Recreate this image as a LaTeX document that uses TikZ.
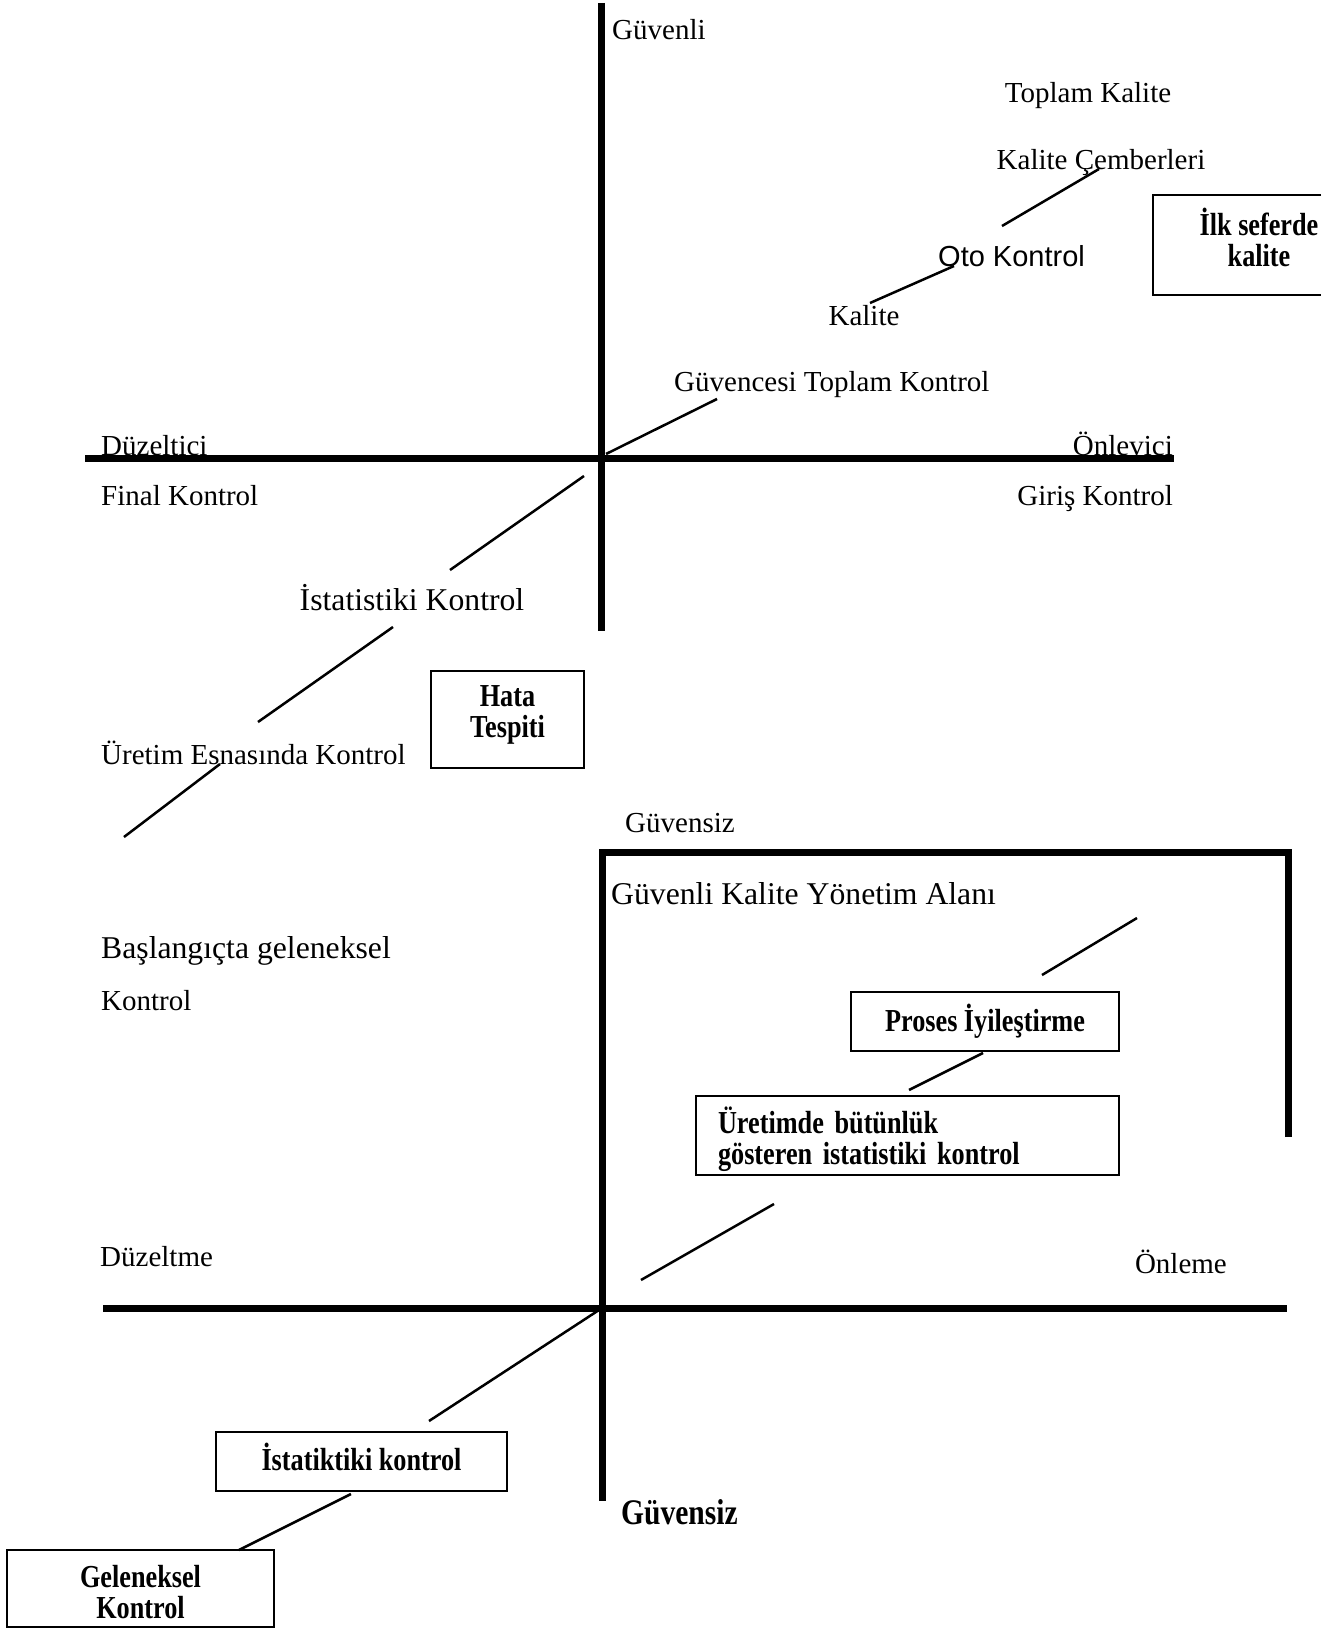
\documentclass[tikz,border=0pt]{standalone}
\usepackage{fontspec}
\setmainfont{Liberation Serif}
\newfontfamily\sansf{Liberation Sans}
\newfontfamily\condf[FakeStretch=0.82]{Liberation Serif}
\usetikzlibrary{positioning,calc}

\begin{document}
\begin{tikzpicture}[
x=1pt,
y=-1pt,
lbl/.style={
  inner sep=0pt,
  font=\fontsize{29}{34}\selectfont
  },
wide/.style={
  lbl,
  font=\fontsize{31.7}{36}\selectfont
  },
box/.style={
  draw,
  line width=2pt,
  inner sep=0pt,
  align=center,
  font=\condf\bfseries\fontsize{32}{31}\selectfont
  },
axis/.style={
  line width=7pt
  },
seg/.style={
  line width=2.5pt
  }
]
\useasboundingbox (0,0) rectangle (1339,1629);

\coordinate (vt) at (601.5,3);
\coordinate (vb) at (601.5,631);
\coordinate (hl) at (85,458);
\coordinate (hr) at (1174,458);
\coordinate (wt) at (602.5,850);
\coordinate (wb) at (602.5,1501);
\coordinate (wr) at (1288,852);
\coordinate (we) at (1288,1137);
\coordinate (gl) at (103,1308);
\coordinate (gr) at (1287,1308);

\draw[axis] (vt) -- (vb);
\draw[axis] (hl) -- (hr);
\draw[axis] (gl) -- (gr);
\draw[axis] (we) -- (wr) -- (wt |- wr) -- (wb);

\node[lbl, anchor=west] (guvenli) at (612,30) {Güvenli};
\node[lbl] (toplam) at (1088,96) {Toplam Kalite};
\node[lbl] (cember) at (1101,163) {Kalite Çemberleri};
\node[lbl, font=\sansf\fontsize{29}{34}\selectfont, anchor=west] (oto) at (938,256) {Oto Kontrol};
\node[lbl] (kalite) at (864,316) {Kalite};
\node[lbl, anchor=west] (guvence) at (674,385) {Güvencesi Toplam Kontrol};
\node[lbl, anchor=base west] (duzeltici) at (101,455) {Düzeltici};
\node[lbl, anchor=base east] (onlevici) at (1173,455) {Önlevici};
\node[lbl, anchor=west] (final) at (101,496) {Final Kontrol};
\node[lbl, anchor=east] (giris) at (1173,499) {Giriş Kontrol};
\node[wide] (istat) at (412,598) {İstatistiki Kontrol};
\node[lbl, anchor=west] (esnasi) at (101,753) {Üretim Esnasında Kontrol};
\node[lbl, anchor=west] (guvensiz) at (625,823) {Güvensiz};
\node[wide, anchor=west] (alan) at (611,894) {Güvenli Kalite Yönetim Alanı};
\node[wide, anchor=west] (basla) at (101,951) {Başlangıçta geleneksel};
\node[lbl, anchor=west] (kontrol) at (101,1001) {Kontrol};
\node[lbl, anchor=west] (duzeltme) at (100,1257) {Düzeltme};
\node[lbl, anchor=east] (onleme) at (1227,1262) {Önleme};
\node[lbl, anchor=west, font=\condf\bfseries\fontsize{36}{40}\selectfont] (guvensizb) at (621,1512) {Güvensiz};

\node[box, draw=none, minimum width=166pt, minimum height=98pt] (ilk) at (1237,245) {};
\draw[line width=2pt] (ilk.north east) -- (ilk.north west) -- (ilk.south west) -- (ilk.south east);
\node[box, draw=none] (ilktxt) at (1259,237) {İlk seferde\\kalite};
\node[box, minimum width=153pt, minimum height=97pt] (hata) at (507.5,719.5) {Hata\\Tespiti\rule[-15pt]{0pt}{0pt}};
\node[box, minimum width=268pt, minimum height=59pt] (proses) at (985,1021.5) {Proses İyileştirme};
\node[box, minimum width=423pt, minimum height=79pt, text width=379pt, align=left] (uretim) at (907.5,1135.5) {\rule{0pt}{35pt}Üretimde bütünlük\\gösteren istatistiki kontrol};
\node[box, minimum width=291pt, minimum height=59pt] (istbox) at (361.5,1461.5) {İstatiktiki kontrol\rule[-10pt]{0pt}{0pt}};
\node[box, minimum width=267pt, minimum height=77pt] (geleneksel) at (140.5,1588.5) {\rule{0pt}{30pt}Geleneksel\\Kontrol};

\coordinate (s1-a) at (1002,226);  \coordinate (s1-b) at (1099,169);
\coordinate (s2-a) at (870,303);   \coordinate (s2-b) at (954,266);
\coordinate (s3-a) at (606,454);   \coordinate (s3-b) at (717,399);
\coordinate (s4-a) at (584,476);   \coordinate (s4-b) at (450,570);
\coordinate (s5-a) at (393,627);   \coordinate (s5-b) at (258,722);
\coordinate (s6-a) at (220,764);   \coordinate (s6-b) at (124,837);
\coordinate (s7-a) at (1137,918);  \coordinate (s7-b) at (1042,975);
\coordinate (s8-a) at (983,1053);  \coordinate (s8-b) at (909,1090);
\coordinate (s9-a) at (774,1204);  \coordinate (s9-b) at (641,1280);
\coordinate (s10-a) at (599,1310); \coordinate (s10-b) at (429,1421);
\coordinate (s11-a) at (351,1494); \coordinate (s11-b) at (239,1550);
\foreach \i in {1,...,11}
  \draw[seg] (s\i-a) -- (s\i-b);
\end{tikzpicture}
\end{document}
